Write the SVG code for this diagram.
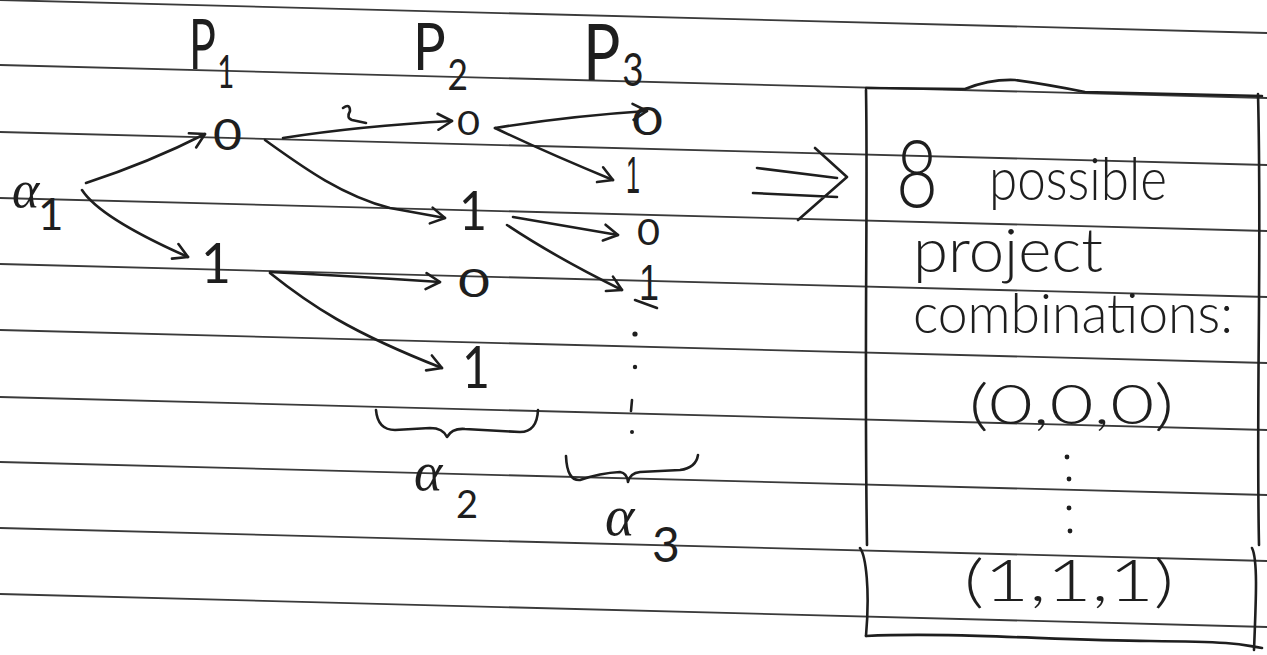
<svg xmlns="http://www.w3.org/2000/svg" width="1267" height="655" viewBox="0 0 1267 655">
  <style>
    .rule { stroke: #3a3a3a; stroke-width: 1.8; fill: none; }
    .ink { stroke: #1e1e1e; stroke-width: 2.6; fill: none; stroke-linecap: round; stroke-linejoin: round; }
    .arrow { marker-end: url(#head); }
    .hw { font-family: Lato, "Open Sans", "DejaVu Sans", sans-serif; font-weight: 400; fill: #1e1e1e; }
    .thin { font-weight: 300; }
    .plain { font-family: "Liberation Sans", Arial, sans-serif; font-weight: 400; }
    .greek { font-family: "Liberation Serif", "DejaVu Serif", serif; font-style: italic; }
    .dot { fill: #1e1e1e; }
  </style>
  <defs>
    <marker id="head" viewBox="-17 -11 20 22" refX="0" refY="0" markerWidth="20" markerHeight="22" markerUnits="userSpaceOnUse" orient="auto">
      <path d="M-14,-8 L0,0 L-14,8" fill="none" stroke="#1e1e1e" stroke-width="2.6" stroke-linecap="round" stroke-linejoin="round"/>
    </marker>
  </defs>

  <rect width="1267" height="655" fill="#ffffff"/>

  <!-- ruled notebook lines, slightly tilted -->
  <g id="ruling">
    <line class="rule" x1="0" y1="0" x2="1267" y2="33"/>
    <line class="rule" x1="0" y1="65" x2="1267" y2="98"/>
    <line class="rule" x1="0" y1="132" x2="1267" y2="165"/>
    <line class="rule" x1="0" y1="198" x2="1267" y2="231"/>
    <line class="rule" x1="0" y1="264" x2="1267" y2="297"/>
    <line class="rule" x1="0" y1="330" x2="1267" y2="363"/>
    <line class="rule" x1="0" y1="397" x2="1267" y2="430"/>
    <line class="rule" x1="0" y1="462" x2="1267" y2="495"/>
    <line class="rule" x1="0" y1="528" x2="1267" y2="561"/>
    <line class="rule" x1="0" y1="594" x2="1267" y2="627"/>
  </g>

  <!-- column headings -->
  <g id="p1">
    <text class="hw" transform="translate(189,69) scale(0.64,1)" font-size="70"><tspan x="0" y="0">P</tspan><tspan x="44" y="19" font-size="46">1</tspan></text>
  </g>
  <g id="p2">
    <text class="hw" transform="translate(413,70) scale(0.84,1)" font-size="65"><tspan x="0" y="0">P</tspan><tspan x="41" y="20" font-size="42">2</tspan></text>
  </g>
  <g id="p3">
    <text class="hw" transform="translate(583,80) scale(0.8,1)" font-size="78"><tspan x="0" y="0">P</tspan><tspan x="49" y="6" font-size="46">3</tspan></text>
  </g>

  <!-- root -->
  <g id="alpha1">
    <text class="hw" x="12" y="207"><tspan class="greek" font-size="52">α</tspan><tspan x="38" y="230" font-size="44">1</tspan></text>
  </g>

  <!-- first level -->
  <g id="p1-zero">
    <text class="hw" x="213" y="150" font-size="42" textLength="29" lengthAdjust="spacingAndGlyphs">0</text>
  </g>
  <g id="p1-one">
    <text class="hw" x="201" y="283" font-size="56" textLength="30" lengthAdjust="spacingAndGlyphs">1</text>
  </g>

  <!-- second level -->
  <g id="p2-zero-a">
    <text class="hw" x="457" y="135" font-size="33" textLength="23" lengthAdjust="spacingAndGlyphs">0</text>
  </g>
  <g id="p2-one-a">
    <text class="hw" x="459" y="230" font-size="54" textLength="28" lengthAdjust="spacingAndGlyphs">1</text>
  </g>
  <g id="p2-zero-b">
    <text class="hw" x="458" y="297" font-size="38" textLength="32" lengthAdjust="spacingAndGlyphs">0</text>
  </g>
  <g id="p2-one-b">
    <text class="hw" x="462" y="388" font-size="58" textLength="28" lengthAdjust="spacingAndGlyphs">1</text>
  </g>

  <!-- third level -->
  <g id="p3-zero-a">
    <text class="hw" x="632" y="135" font-size="38" textLength="31" lengthAdjust="spacingAndGlyphs">0</text>
  </g>
  <g id="p3-one-a">
    <text class="hw plain" x="626" y="193" font-size="52" textLength="14" lengthAdjust="spacingAndGlyphs">1</text>
  </g>
  <g id="p3-zero-b">
    <text class="hw" x="637" y="245" font-size="36" textLength="23" lengthAdjust="spacingAndGlyphs">0</text>
  </g>
  <g id="p3-one-b">
    <text class="hw plain" x="639" y="300" font-size="50" textLength="20" lengthAdjust="spacingAndGlyphs">1</text>
    <path class="ink" d="M635,300 L657,308"/>
  </g>

  <!-- vertical ellipsis under the third column -->
  <g id="p3-more">
    <circle class="dot" cx="635" cy="334" r="2.6"/>
    <circle class="dot" cx="635" cy="367" r="2.2"/>
    <path class="ink" d="M632,400 L631,411"/>
    <circle class="dot" cx="632" cy="432" r="2"/>
  </g>

  <!-- braces and level labels -->
  <g id="alpha2">
    <path class="ink" d="M376,410 C377,422 382,430 395,430 L430,428 Q443,428 447,437 Q452,428 465,429 L520,432 Q537,432 538,410"/>
    <text class="hw" x="414" y="490"><tspan class="greek" font-size="54">α</tspan><tspan x="456" y="518" font-size="38">2</tspan></text>
  </g>
  <g id="alpha3">
    <path class="ink" d="M566,456 Q567,481 580,480 Q600,473 620,472 Q627,473 628,482 Q630,473 640,472 L680,470 Q696,468 698,455"/>
    <text class="hw" x="605" y="535"><tspan class="greek" font-size="56">α</tspan><tspan x="652" y="562" font-size="48">3</tspan></text>
  </g>

  <!-- summary box -->
  <g id="summary">
    <path class="ink" d="M866,88 L965,89 Q990,79 1015,80 Q1045,84 1085,92 L1262,96"/>
    <path class="ink" d="M866,90 C868,200 864,350 867,545 M860,548 C866,556 870,590 866,636"/>
    <path class="ink" d="M866,636 C950,632 1050,640 1150,641 S1240,645 1262,648"/>
    <path class="ink" d="M1258,94 C1262,250 1256,400 1259,545 M1252,548 C1258,560 1256,600 1254,650"/>
    <text class="hw thin" x="896" y="207" font-size="92" textLength="42" lengthAdjust="spacingAndGlyphs">8</text>
    <text class="hw thin" x="989" y="200" font-size="60" textLength="178" lengthAdjust="spacingAndGlyphs">possible</text>
    <text class="hw thin" x="913" y="272" font-size="62" textLength="190" lengthAdjust="spacingAndGlyphs">project</text>
    <text class="hw thin" x="913" y="333" font-size="56" textLength="320" lengthAdjust="spacingAndGlyphs">combinations:</text>
    <text class="hw thin" x="969" y="424" font-size="56" textLength="205" lengthAdjust="spacingAndGlyphs">(0,0,0)</text>
    <circle class="dot" cx="1067" cy="457" r="2.4"/>
    <circle class="dot" cx="1069" cy="479" r="2.4"/>
    <circle class="dot" cx="1069" cy="508" r="2.4"/>
    <circle class="dot" cx="1070" cy="531" r="2.4"/>
    <text class="hw thin" x="964" y="601" font-size="58" textLength="210" lengthAdjust="spacingAndGlyphs">(1,1,1)</text>
  </g>

  <!-- tree branches -->
  <g id="connectors">
    <path class="ink arrow" d="M86,183 Q150,162 205,134"/>
    <path class="ink arrow" d="M82,190 Q100,218 188,257"/>
    <path class="ink arrow" d="M283,138 Q360,126 452,121"/>
    <path class="ink arrow" d="M265,140 C300,165 340,195 390,208 L445,218"/>
    <path class="ink arrow" d="M270,272 Q350,276 440,282"/>
    <path class="ink arrow" d="M270,273 C310,305 350,332 442,368"/>
    <path class="ink arrow" d="M495,128 Q570,116 647,111"/>
    <path class="ink arrow" d="M495,128 Q545,152 613,180"/>
    <path class="ink arrow" d="M513,217 L618,235"/>
    <path class="ink arrow" d="M507,225 Q555,257 622,290"/>
    <path class="ink" d="M343,108 Q350,103 350,111 Q346,118 352,120 L366,123"/>
    <path class="ink" d="M757,168 L837,178 M753,193 L837,197 M815,148 L847,177 L798,220"/>
  </g>
</svg>
